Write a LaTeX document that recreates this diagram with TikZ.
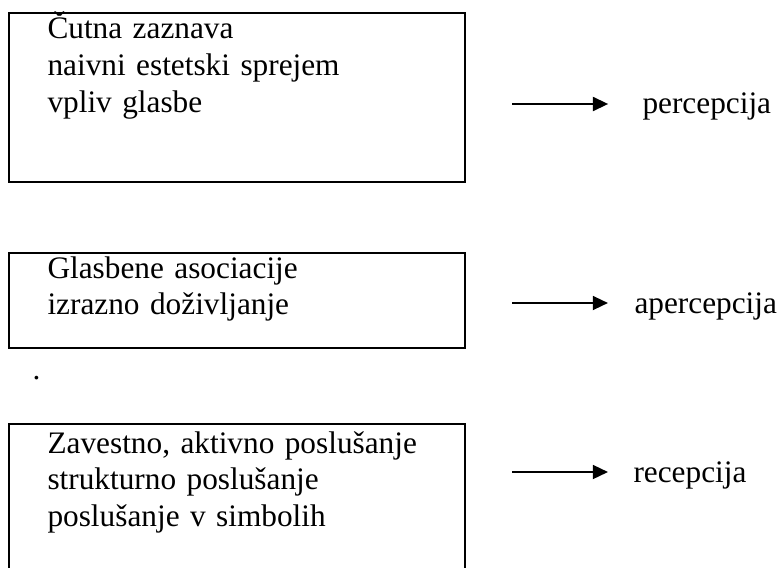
\documentclass[tikz,border=0pt]{standalone}
\usepackage{fontspec}
\setmainfont{Liberation Serif}
\usetikzlibrary{arrows.meta,positioning}

\begin{document}
\begin{tikzpicture}[x=0.3834pt,y=-0.3834pt,>={Triangle[length=5.8pt,width=5.4pt]},font=\fontsize{12}{14}\selectfont]
  \tikzstyle{stage}=[rectangle,draw,line width=0.75pt,anchor=north west,inner sep=0pt,minimum width=174.8pt]
  \tikzstyle{lines}=[anchor=base west,inner sep=0pt,text width=170pt,align=left]
  \tikzstyle{result}=[anchor=base west,inner sep=0pt]
  \tikzstyle{link}=[->,line width=0.6pt,shorten >=13pt]

  \useasboundingbox (0,0) rectangle (780,567);

  % percepcija
  \node [stage,minimum height=64.8pt] (zaznava) at (8,12) {};
  \node [lines] (zaznavatxt) at (47,39) {Čutna zaznava\\naivni estetski sprejem\\vpliv glasbe};
  \node [result] (percepcija) at (642,113) {percepcija};
  \coordinate (z1) at (512,104);
  \draw [link] (z1) -- (z1 -| percepcija.west);

  % apercepcija
  \node [stage,minimum height=36.4pt] (asociacije) at (8,252) {};
  \node [lines] (asociacijetxt) at (47,278) {Glasbene asociacije\\izrazno doživljanje};
  \node [result] (apercepcija) at (634,313) {apercepcija};
  \coordinate (a1) at (512,303);
  \draw [link,shorten >=10pt] (a1) -- (a1 -| apercepcija.west);

  \node [result] (pika) at (32,379) {.};

  % recepcija
  \node [stage,minimum height=64.8pt] (poslusanje) at (8,423) {};
  \node [lines] (poslusanjetxt) at (47,453) {Zavestno, aktivno poslušanje\\strukturno poslušanje\\poslušanje v simbolih};
  \node [result] (recepcija) at (633,482) {recepcija};
  \coordinate (r1) at (512,472);
  \draw [link,shorten >=9.6pt] (r1) -- (r1 -| recepcija.west);
\end{tikzpicture}
\end{document}
